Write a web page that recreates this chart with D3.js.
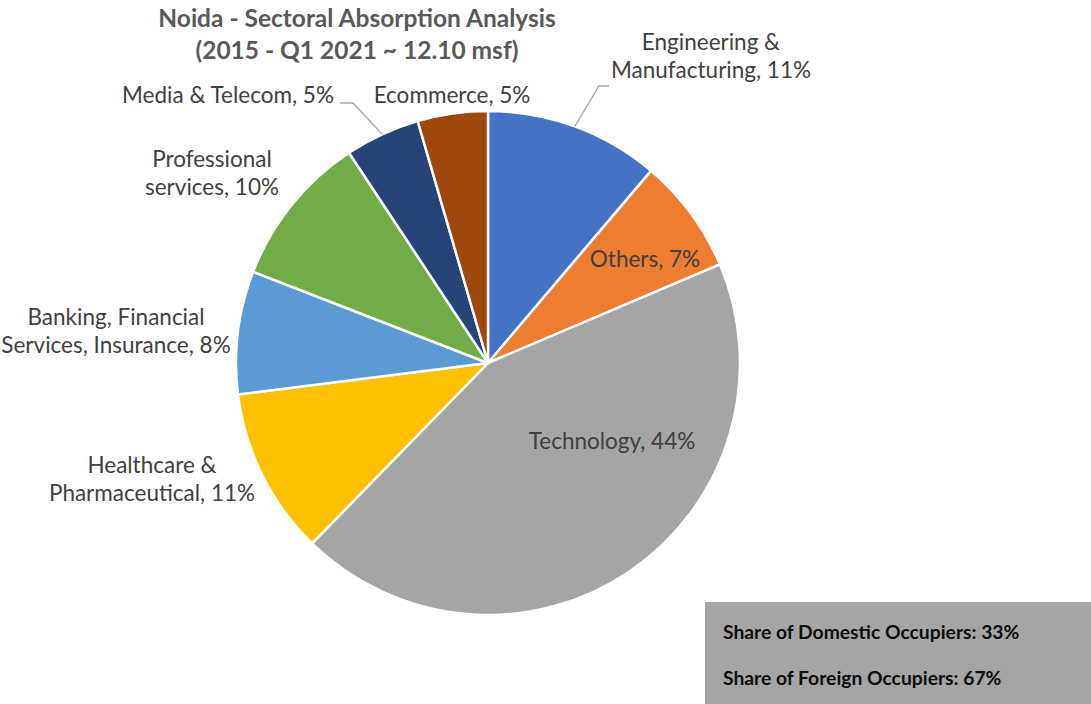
<!DOCTYPE html>
<html>
<head>
<meta charset="utf-8">
<script src="https://cdn.jsdelivr.net/npm/d3@7"></script>
<style>
  body { margin: 0; background: #fff; }
  svg { display: block; font-family: Lato, "Open Sans", sans-serif; }
</style>
</head>
<body>
<svg width="1091" height="704"></svg>
<script>
// Data, clockwise from 12 o'clock
var sectors = ['Engineering & Manufacturing', 'Others', 'Technology', 'Healthcare & Pharmaceutical',
  'Banking, Financial Services, Insurance', 'Professional services', 'Media & Telecom', 'Ecommerce'];
var shares = [11.2, 7.4, 43.7, 10.7, 7.9, 9.8, 4.8, 4.5];
var labelLines = [
  ['Engineering &', 'Manufacturing, 11%'],
  ['Others, 7%'],
  ['Technology, 44%'],
  ['Healthcare &', 'Pharmaceutical, 11%'],
  ['Banking, Financial', 'Services, Insurance, 8%'],
  ['Professional', 'services, 10%'],
  ['Media & Telecom, 5%'],
  ['Ecommerce, 5%']
];
var colors = ['#4472c4', '#ed7d31', '#a5a5a5', '#ffc000', '#5b9bd5', '#70ad47', '#264478', '#9e480e'];
var titleLines = ['Noida - Sectoral Absorption Analysis', '(2015 - Q1 2021 ~ 12.10 msf)'];
var noteLines = ['Share of Domestic Occupiers: 33%', 'Share of Foreign Occupiers: 67%'];

// Layout: where each label block is centred, and which labels get a leader line
var labelAt = [[711, 56], [645, 259], [612, 441], [152, 479], [116, 331], [212, 173], [228, 95], [452, 95]];
var leaders = {0: [[609, 86], [599, 86]], 6: [[340, 103], [353, 103]]};

var cx = 488, cy = 363, r = 252;
var svg = d3.select('svg');

var data = sectors.map((s, i) => ({name: s, value: shares[i], color: colors[i], i: i}));
var pie = d3.pie().sort(null).value(d => d.value);
var arc = d3.arc().innerRadius(0).outerRadius(r);
var arcs = pie(data);

var g = svg.append('g').attr('transform', 'translate(' + cx + ',' + cy + ')');
g.selectAll('path')
  .data(arcs).enter()
  .append('path')
  .attr('d', arc)
  .attr('fill', d => d.data.color)
  .attr('stroke', '#fff')
  .attr('stroke-width', 2.5)
  .attr('stroke-linejoin', 'round');

// Leader lines from label to slice edge
arcs.forEach(a => {
  var pts = leaders[a.index];
  if (!pts) return;
  var mid = (a.startAngle + a.endAngle) / 2;
  var edge = [cx + r * Math.sin(mid), cy - r * Math.cos(mid)];
  svg.append('polyline')
    .attr('points', pts.concat([edge]).map(p => p.join(',')).join(' '))
    .attr('fill', 'none')
    .attr('stroke', '#a6a6a6')
    .attr('stroke-width', 1.3);
});

// Slice labels
var lh = 28;
labelLines.forEach((lines, i) => {
  var t = svg.append('text')
    .attr('text-anchor', 'middle')
    .attr('fill', '#404040')
    .style('font-size', '22.5px');
  var y0 = labelAt[i][1] - (lines.length - 1) * lh / 2;
  lines.forEach((l, k) => {
    t.append('tspan')
      .attr('x', labelAt[i][0])
      .attr('y', y0 + k * lh)
      .attr('dy', '0.35em')
      .text(l);
  });
});

// Title
svg.append('g').selectAll('text')
  .data(titleLines).enter()
  .append('text')
  .attr('x', 357)
  .attr('y', (d, i) => 18 + i * 32)
  .attr('dy', '0.35em')
  .attr('text-anchor', 'middle')
  .attr('fill', '#595959')
  .style('font-size', '24.5px')
  .style('font-weight', 'bold')
  .text(d => d);

// Occupier note box
svg.append('rect')
  .attr('x', 705).attr('y', 602)
  .attr('width', 386).attr('height', 102)
  .attr('fill', '#a5a5a5');
svg.append('g').selectAll('text')
  .data(noteLines).enter()
  .append('text')
  .attr('x', 723)
  .attr('y', (d, i) => 632 + i * 46)
  .attr('dy', '0.35em')
  .attr('fill', '#0d0d0d')
  .style('font-size', '19.3px')
  .style('font-weight', 'bold')
  .text(d => d);
</script>
</body>
</html>
